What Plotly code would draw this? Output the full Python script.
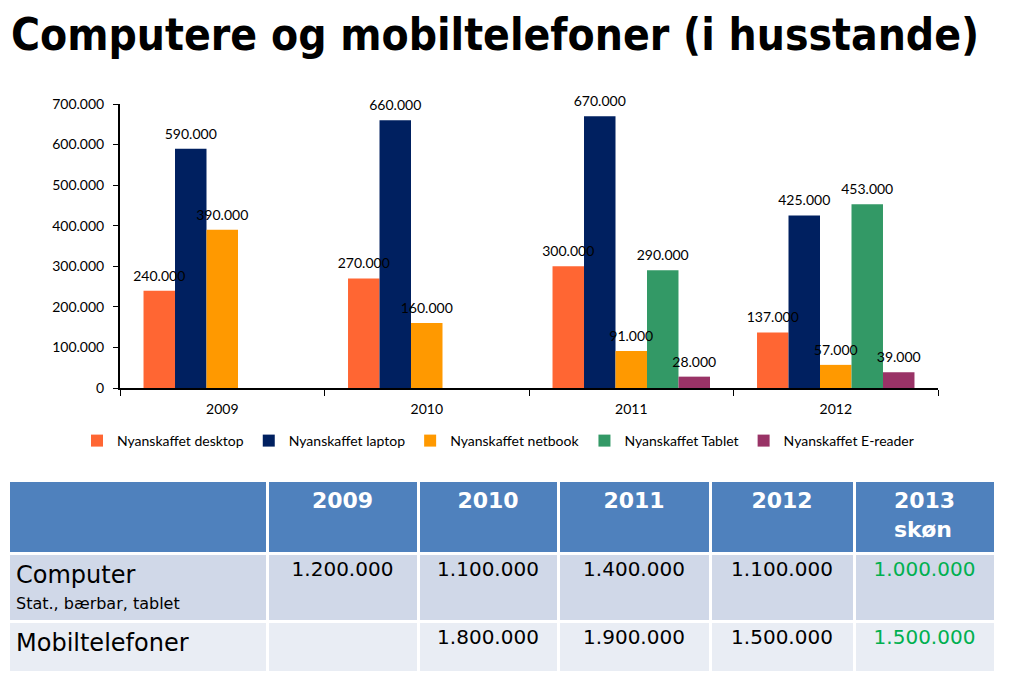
import plotly.graph_objects as go

# ---- Chart data ----
years = ["2009", "2010", "2011", "2012"]
desktop = [240000, 270000, 300000, 137000]
laptop = [590000, 660000, 670000, 425000]
netbook = [390000, 160000, 91000, 57000]
tablet = [None, None, 290000, 453000]
ereader = [None, None, 28000, 39000]

series_names = ["Nyanskaffet desktop", "Nyanskaffet laptop", "Nyanskaffet netbook",
                "Nyanskaffet Tablet", "Nyanskaffet E-reader"]
series_values = [desktop, laptop, netbook, tablet, ereader]
series_colors = ["#FF6633", "#002060", "#FF9900", "#339966", "#993366"]

y_ticks = [0, 100000, 200000, 300000, 400000, 500000, 600000, 700000]

# ---- Table data ----
table_header = ["", "2009", "2010", "2011", "2012", "2013<br>skøn"]
row_labels = ["<span style='font-size:24px'>Computer</span><br><span style='font-size:16px'>Stat., bærbar, tablet</span>",
              "<span style='font-size:24px'>Mobiltelefoner</span><br>"]
computer_row = ["1.200.000", "1.100.000", "1.400.000", "1.100.000", "1.000.000"]
mobil_row = ["", "1.800.000", "1.900.000", "1.500.000", "1.500.000"]

TITLE = "Computere og mobiltelefoner (i husstande)"

chart_font = "Lato, Carlito, Noto Sans, sans-serif"
table_font = "DejaVu Sans, Verdana, sans-serif"

W, H = 1009, 678
OFF = 8  # page offset of the figure


def px_x(x):
    return (x - OFF) / W


def px_y(y):
    return 1 - (y - OFF) / H


fig = go.Figure()

for name, vals, col in zip(series_names, series_values, series_colors):
    fig.add_trace(go.Bar(
        x=years, y=vals, name=name,
        marker=dict(color=col, line=dict(width=0)),
        offsetgroup=name,
        xaxis="x", yaxis="y",
    ))

# value labels drawn on top of all bars
for name, vals in zip(series_names, series_values):
    fig.add_trace(go.Scatter(
        x=years, y=vals, mode="markers+text",
        marker=dict(size=9, color="rgba(0,0,0,0)"),
        text=[("" if v is None else f"{v:,}".replace(",", ".")) for v in vals],
        textposition="top center",
        textfont=dict(family=chart_font, size=14, color="#000000"),
        offsetgroup=name,
        cliponaxis=False,
        showlegend=False, hoverinfo="skip",
        xaxis="x", yaxis="y",
    ))

# Table
cols = [row_labels] + [[computer_row[i], mobil_row[i]] for i in range(5)]
row_fills = ["#D0D8E8", "#E9EDF4"]
font_colors = [["#000000", "#000000"]] * 5 + [["#00B050", "#00B050"]]
fig.add_trace(go.Table(
    domain=dict(x=[0, px_x(995)], y=[px_y(674), px_y(480)]),
    columnwidth=[259, 151, 140, 152, 144, 141],
    header=dict(
        values=[f"<b>{h}</b>" if h else "" for h in table_header],
        fill=dict(color="#4F81BD"),
        line=dict(color="#FFFFFF", width=3),
        font=dict(family=table_font, size=22, color="#FFFFFF"),
        align="center",
        height=73,
    ),
    cells=dict(
        values=cols,
        fill=dict(color=[row_fills] * 6),
        line=dict(color="#FFFFFF", width=3),
        font=dict(family=table_font, size=[20, 20, 20, 20, 20, 20],
                  color=font_colors),
        align=["left", "center", "center", "center", "center", "center"],
        height=51,
    ),
))

fig.update_layout(
    width=W, height=H,
    margin=dict(l=0, r=0, t=0, b=0, autoexpand=False),
    paper_bgcolor="#FFFFFF",
    plot_bgcolor="#FFFFFF",
    separators=",.",
    barmode="group",
    bargap=0.23,
    bargroupgap=0,
    scattermode="group",
    scattergap=0.23,
    showlegend=True,
    legend=dict(
        orientation="h",
        x=px_x(498), xanchor="center",
        y=px_y(441), yanchor="middle",
        font=dict(family=chart_font, size=14, color="#000000"),
        itemclick=False,
        traceorder="normal",
    ),
    xaxis=dict(
        domain=[px_x(120), px_x(938)],
        anchor="y",
        type="category",
        showline=True, linecolor="#000000", linewidth=2,
        ticks="outside", tickson="boundaries", ticklen=6, tickcolor="#000000", tickwidth=1,
        ticklabelstandoff=7,
        tickfont=dict(family=chart_font, size=14, color="#000000"),
        showgrid=False, zeroline=False,
    ),
    yaxis=dict(
        domain=[px_y(388), px_y(104)],
        anchor="x",
        range=[0, 700000],
        tickvals=y_ticks,
        tickformat=",d",
        showline=True, linecolor="#000000", linewidth=2,
        ticks="outside", ticklen=5, tickcolor="#000000",
        ticklabelstandoff=6,
        tickfont=dict(family=chart_font, size=14, color="#000000"),
        showgrid=False, zeroline=False,
    ),
    annotations=[dict(
        text=TITLE, xref="paper", yref="paper",
        x=px_x(10), y=1, xanchor="left", yanchor="top",
        showarrow=False, borderpad=0,
        font=dict(family="DejaVu Sans Condensed, DejaVu Sans, sans-serif", size=44,
                  color="#000000", weight="bold"),
    )],
)

fig.write_html("out.html")
